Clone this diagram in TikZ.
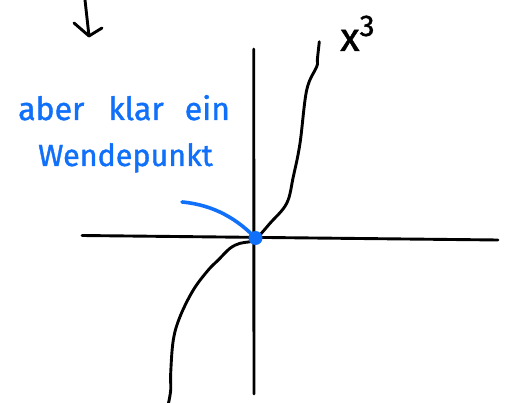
\documentclass[tikz,border=0pt]{standalone}
\usepackage{fontspec}
\setmainfont{Fira Sans}
\newfontfamily\handfont{Fira Sans}[FakeBold=1.2]
\definecolor{penblue}{RGB}{16,112,250}
\begin{document}
\begin{tikzpicture}[x=1pt,y=-1pt,
  ink/.style={line width=2.9pt,line cap=round,line join=round,black},
  blueink/.style={line width=3.6pt,line cap=round,line join=round,penblue},
  bluetext/.style={text=penblue,inner sep=0pt,anchor=base west,font=\handfont\fontsize{32}{32}\selectfont},
  blacktext/.style={text=black,inner sep=0pt,anchor=base west,font=\handfont\fontsize{40}{40}\selectfont}]
\useasboundingbox (0,0) rectangle (508,403);
% top arrow
\coordinate (atop) at (85,0);
\coordinate (atip) at (89,36);
\coordinate (aleft) at (74,23);
\coordinate (aright) at (102,28);
\draw[ink] (atop) -- (atip);
\draw[ink] (aleft) -- (atip) -- (aright);
% axes
\coordinate (xl) at (82,235.5);
\coordinate (xr) at (498,240);
\coordinate (yt) at (253.7,49);
\coordinate (yb) at (254,394);
\draw[ink] (xl) -- (xr);
\draw[ink] (yt) -- (yb);
% curve x^3
\draw[ink] plot[smooth,tension=0.6] coordinates {
 (168.5,403) (170.7,390) (170.7,373) (173.3,340) (180,316.7) (193.3,290)
 (208.3,270) (218.3,260) (230,248.3) (240,243.3) (250,241.7) (256,239)
 (270,223.3) (286.7,203.3) (293.3,176.7) (300,143.3) (306.7,90)
 (316.7,66.7) (317.3,60) (319.3,41.7)};
\node[blacktext] (lbl) at (340,51) {x\raisebox{15pt}{\fontsize{30}{30}\selectfont 3}};
% blue annotation
\node[bluetext] (t1) at (18,120) {aber\hspace{24pt}klar\hspace{21pt}ein};
\node[bluetext,font=\handfont\fontsize{30.5}{30.5}\selectfont] (t2) at (38,166) {Wendepunkt};
\node[circle,fill=penblue,minimum size=14pt,inner sep=0pt] (wp) at (255.5,238) {};
\coordinate (cs) at (182,202);
\draw[blueink] (cs) .. controls (215,205) and (238,220) .. (wp.center);
\end{tikzpicture}
\end{document}
